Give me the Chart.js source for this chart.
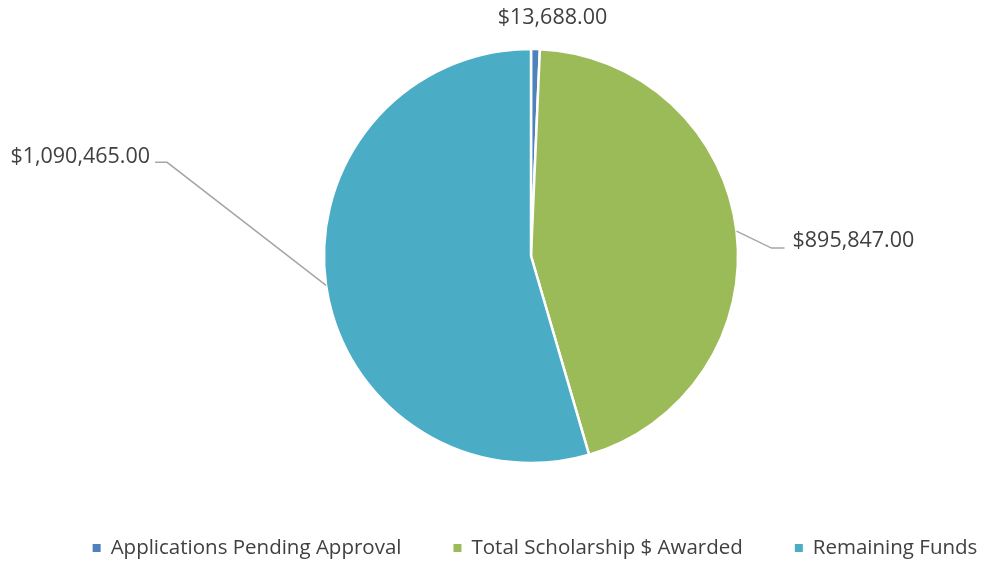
<!DOCTYPE html>
<html>
<head>
<meta charset="utf-8">
<script src="https://cdn.jsdelivr.net/npm/chart.js@4.4.0/dist/chart.umd.min.js"></script>
<style>
  html, body { margin: 0; padding: 0; background: #ffffff; }
  #wrap { width: 989px; height: 565px; }
</style>
</head>
<body>
<div id="wrap"><canvas id="chart" width="989" height="565"></canvas></div>
<script>
// chart data
const categories = ['Applications Pending Approval', 'Total Scholarship $ Awarded', 'Remaining Funds'];
const amounts = [13688, 895847, 1090465];
const sliceColors = ['#4F81BD', '#9BBB59', '#4BACC6'];

const textColor = '#404040';
const leaderColor = '#A6A6A6';
const fontFamily = '"Open Sans", "DejaVu Sans", sans-serif';

// where each value label sits, relative to the middle of its slice's edge
const labelPlacement = [
    { dx: 17, dy: -31, line: false, align: 'center' },
    { elbow: [35, 17], end: [48, 17], dx: 56, dy: 10, line: true, align: 'left' },
    { elbow: [-159, -123], end: [-171, -123], dx: -176, dy: -128, line: true, align: 'right' }
];

function formatMoney(v) {
    return '$' + v.toLocaleString('en-US', { minimumFractionDigits: 2, maximumFractionDigits: 2 });
}

const valueLabels = {
    id: 'valueLabels',
    afterDatasetsDraw(chart) {
        const ctx = chart.ctx;
        const meta = chart.getDatasetMeta(0);
        ctx.save();
        ctx.font = '21.5px ' + fontFamily;
        ctx.textBaseline = 'middle';
        meta.data.forEach((arc, i) => {
            const p = arc.getProps(['x', 'y', 'startAngle', 'endAngle', 'outerRadius'], true);
            const mid = (p.startAngle + p.endAngle) / 2;
            const ex = p.x + Math.cos(mid) * p.outerRadius;
            const ey = p.y + Math.sin(mid) * p.outerRadius;
            const place = labelPlacement[i];
            if (place.line) {
                ctx.strokeStyle = leaderColor;
                ctx.lineWidth = 1.5;
                ctx.beginPath();
                ctx.moveTo(ex, ey);
                ctx.lineTo(ex + place.elbow[0], ey + place.elbow[1]);
                ctx.lineTo(ex + place.end[0], ey + place.end[1]);
                ctx.stroke();
            }
            ctx.fillStyle = textColor;
            ctx.textAlign = place.align;
            ctx.fillText(formatMoney(amounts[i]), ex + place.dx, ey + place.dy);
        });
        ctx.restore();
    }
};

const bottomLegend = {
    id: 'bottomLegend',
    afterDraw(chart) {
        const ctx = chart.ctx;
        const labels = chart.data.labels;
        const colors = chart.data.datasets[0].backgroundColor;
        const box = 8, boxGap = 10, itemGap = 52, centerX = 535, y = 548;
        ctx.save();
        ctx.font = '20.5px ' + fontFamily;
        ctx.textBaseline = 'middle';
        ctx.textAlign = 'left';
        const widths = labels.map(l => ctx.measureText(l).width);
        const total = widths.reduce((s, w) => s + w + box + boxGap, 0) + itemGap * (labels.length - 1);
        let x = centerX - total / 2;
        labels.forEach((l, i) => {
            ctx.fillStyle = colors[i];
            ctx.fillRect(x, y - box / 2, box, box);
            ctx.fillStyle = textColor;
            ctx.fillText(l, x + box + boxGap, y);
            x += box + boxGap + widths[i] + itemGap;
        });
        ctx.restore();
    }
};

const ctx = document.getElementById('chart').getContext('2d');
new Chart(ctx, {
    type: 'pie',
    data: {
        labels: categories,
        datasets: [{
            data: amounts,
            backgroundColor: sliceColors,
            borderColor: '#ffffff',
            borderWidth: 2.5,
            radius: 207
        }]
    },
    options: {
        responsive: false,
        animation: false,
        layout: { padding: { left: 73, right: 0, top: 49, bottom: 102 } },
        plugins: {
            legend: { display: false },
            tooltip: { enabled: false }
        }
    },
    plugins: [valueLabels, bottomLegend]
});
</script>
</body>
</html>
